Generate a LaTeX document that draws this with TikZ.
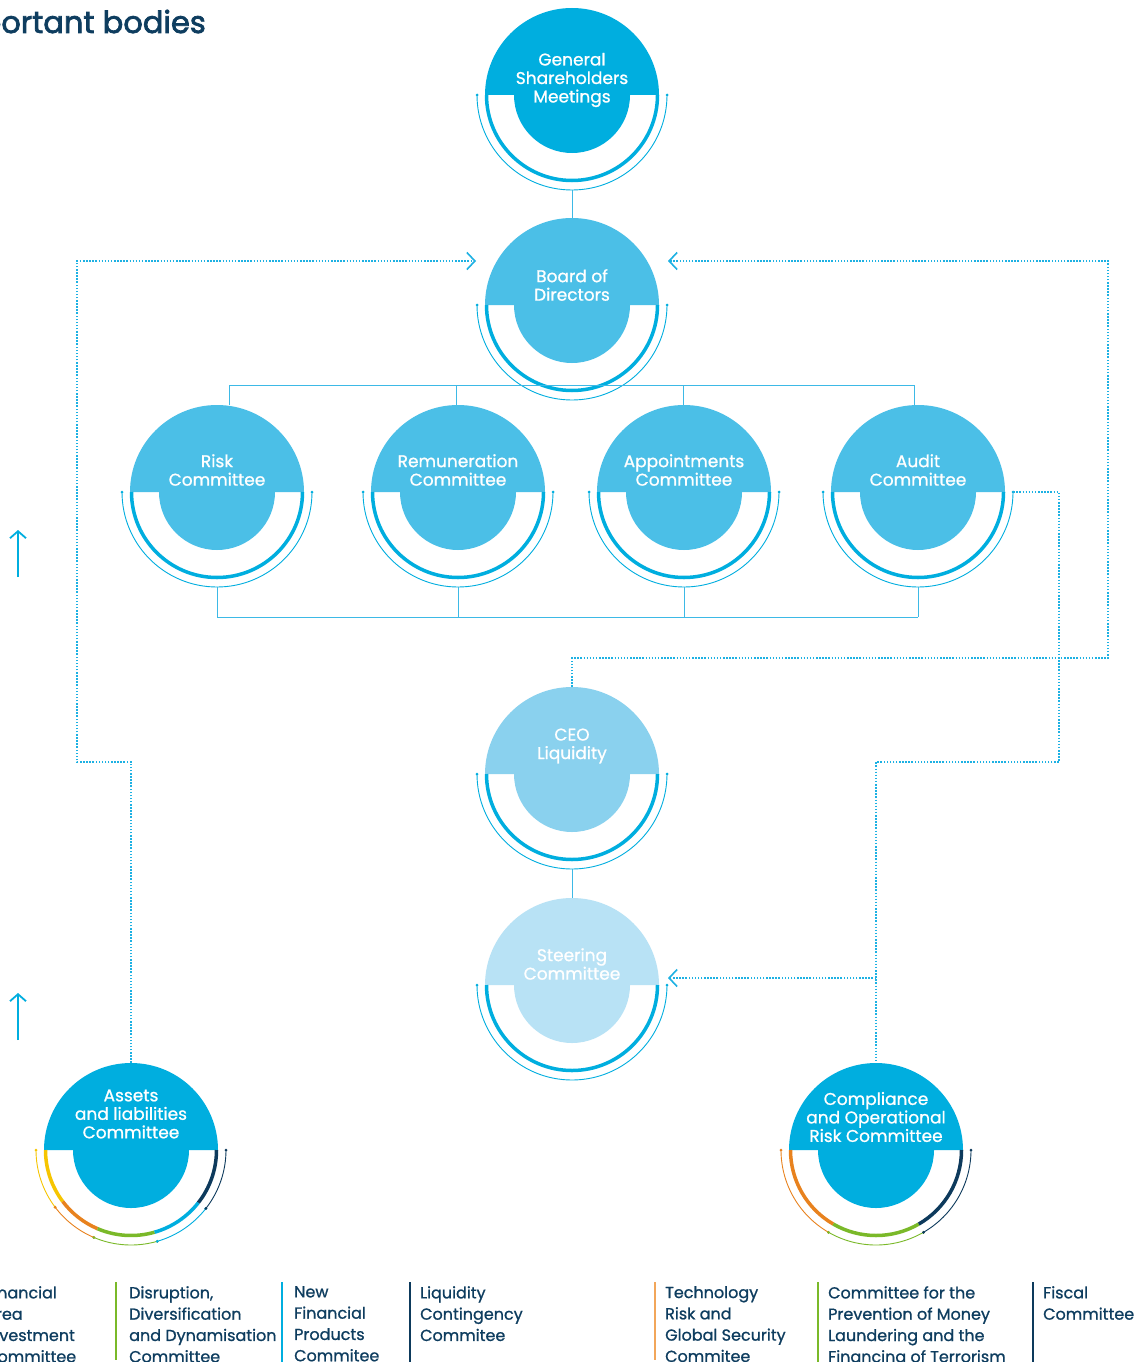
\documentclass[tikz,border=0pt]{standalone}
\usepackage{fontspec}
\setmainfont{Poppins}
\newfontfamily\medfont[FakeBold=0.9]{Poppins}
\newfontfamily\headfont[FakeBold=2.4]{Poppins}
\usepackage{xcolor}
\usepackage{tikz}
\usetikzlibrary{arrows.meta}
\definecolor{navy}{HTML}{0E3D5F}
\definecolor{cyanA}{HTML}{00AEDF}
\definecolor{cyanB}{HTML}{4BBFE7}
\definecolor{cyanC}{HTML}{8AD1EE}
\definecolor{cyanD}{HTML}{B8E2F5}
\definecolor{ringc}{HTML}{00AEDF}
\definecolor{linec}{HTML}{3DB9E6}
\definecolor{dotc}{HTML}{1DB1E3}
\definecolor{ringyellow}{HTML}{F6C500}
\definecolor{ringorange}{HTML}{E8821E}
\definecolor{ringgreen}{HTML}{7AB929}
\definecolor{ringnavy}{HTML}{0D3A5C}
\definecolor{peach}{HTML}{F2A65A}
\tikzset{
  body/.style={circle, minimum size=174pt, inner sep=0pt},
  lab/.style={text=white, align=center, inner sep=0pt, font=\medfont\fontsize{17}{18.5}\selectfont},
  link/.style={draw=linec, line width=1pt},
  dotlink/.style={draw=dotc, line width=1.6pt, dash pattern=on 1.5pt off 1.6pt},
  intip/.style={-{Straight Barb[length=8pt,width=17pt]}},
  legend/.style={text=navy, align=left, anchor=north west, inner sep=0pt, font=\medfont\fontsize{16}{21.3}\selectfont},
  legline/.style={line width=1.5pt}
}
% half disc on top, inner disc below
\newcommand{\bodydisc}[2]{%
  \fill[#2] (#1.center) ++(-87,0) arc[start angle=180, end angle=0, radius=87] -- cycle;
  \fill[#2] (#1.center) circle[radius=58];
}
% thick and thin rings, from/to/colour
\newcommand{\bodyring}[2]{%
  \foreach \a/\b/\c in {#2}{
    \draw[\c, line width=3.5pt] (#1.center) ++(\a:85.5) arc[start angle=\a, end angle=\b, radius=85.5];
    \draw[\c, line width=0.9pt] (#1.center) ++(\a:95) arc[start angle=\a, end angle=\b, radius=95];
    \fill[\c] (#1.center) ++(\a:95) circle[radius=1.5];
    \fill[\c] (#1.center) ++(\b:95) circle[radius=1.5];
  }
}

\begin{document}
\begin{tikzpicture}[x=1pt, y=1pt]
  \fill[white] (0,0) rectangle (1142,-1362);
  \useasboundingbox (0,0) rectangle (1142,-1362);

  \node[anchor=base east, text=navy, inner sep=0pt, font=\headfont\fontsize{30.5}{34}\selectfont] (title) at (206,-33) {Important bodies};

  % bodies
  \node[body] (gsm) at (572,-95) {};
  \node[body] (board) at (572,-305) {};
  \node[body] (risk) at (217,-492) {};
  \node[body] (remun) at (458,-492) {};
  \node[body] (appoint) at (684,-492) {};
  \node[body] (audit) at (918,-492) {};
  \node[body] (ceo) at (572,-774) {};
  \node[body] (steer) at (572,-985) {};
  \node[body] (alco) at (131,-1150) {};
  \node[body] (comp) at (876,-1150) {};

  \bodydisc{gsm}{cyanA}
  \bodydisc{board}{cyanB}
  \foreach \n in {risk,remun,appoint,audit} {\bodydisc{\n}{cyanB}}
  \bodydisc{ceo}{cyanC}
  \bodydisc{steer}{cyanD}
  \bodydisc{alco}{cyanA}
  \bodydisc{comp}{cyanA}

  \foreach \n in {gsm,board,risk,remun,appoint,audit,ceo,steer} {\bodyring{\n}{180/360/ringc}}
  \bodyring{alco}{180/217/ringyellow, 217/247/ringorange, 247/286/ringgreen, 286/322/ringc, 322/360/ringnavy}
  \bodyring{comp}{180/240/ringorange, 240/300/ringgreen, 300/360/ringnavy}

  \node[lab] (gsm-t) at ([yshift=15pt]gsm.center) {General\\Shareholders\\Meetings};
  \node[lab] (board-t) at ([yshift=20pt]board.center) {Board of\\Directors};
  \node[lab] (risk-t) at ([yshift=22pt]risk.center) {Risk\\Committee};
  \node[lab] (remun-t) at ([yshift=22pt]remun.center) {Remuneration\\Committee};
  \node[lab] (appoint-t) at ([yshift=22pt]appoint.center) {Appointments\\Committee};
  \node[lab] (audit-t) at ([yshift=22pt]audit.center) {Audit\\Committee};
  \node[lab] (ceo-t) at ([yshift=28pt]ceo.center) {CEO\\Liquidity};
  \node[lab] (steer-t) at ([yshift=21pt]steer.center) {Steering\\Committee};
  \node[lab] (alco-t) at ([yshift=36pt]alco.center) {Assets\\and liabilities\\Committee};
  \node[lab] (comp-t) at ([yshift=33pt]comp.center) {Compliance\\and Operational\\Risk Committee};

  % solid links
  \draw[link] ([yshift=-8pt]gsm.south) -- (board.north);
  \draw[link] ([yshift=-8pt]ceo.south) -- (steer.north);
  \coordinate (topbus) at (0,-385);
  \coordinate (lowbus) at (0,-617);
  \foreach \n/\dx in {risk/12,remun/-2,appoint/-1,audit/-4}
    \draw[link] ([xshift=\dx pt]\n.north) -- ([xshift=\dx pt]\n.north |- topbus);
  \draw[link] ([xshift=12pt]risk.north |- topbus) -- ([xshift=-4pt]audit.north |- topbus);
  \foreach \n in {risk,remun,appoint,audit}
    \draw[link] ([yshift=-8pt]\n.south) -- (\n.south |- lowbus);
  \draw[link] (risk.south |- lowbus) -- (audit.south |- lowbus);

  % dotted reporting lines
  \coordinate (inL) at (476,-261);
  \coordinate (inR) at (668,-261);
  \coordinate (inS) at (668,-978);
  \draw[dotlink, intip] (alco.north) |- (77,-762) |- (inL);
  \draw[dotlink, intip] (ceo.north) |- (1108,-658) |- (inR);
  \draw[dotlink] ([xshift=8pt]audit.east) -| (1059,-762) -| (comp.north);
  \draw[dotlink, intip] (comp.north |- inS) -- (inS);

  % side arrows
  \draw[link, draw=ringc, line width=1.8pt, -{Straight Barb[length=7pt,width=16pt]}] (18,-577) -- (18,-530);
  \draw[link, draw=ringc, line width=1.8pt, -{Straight Barb[length=7pt,width=16pt]}] (18,-1040) -- (18,-993);

  % committees below
  \draw[legline, ringyellow] (-27,-1282) -- (-27,-1362);
  \node[legend] (fin-t) at (-15,-1286) {Financial\\Area\\Investment\\Committee};
  \draw[legline, ringgreen] (116,-1282) -- (116,-1360);
  \node[legend] (dis-t) at (129,-1286) {Disruption,\\Diversification\\and Dynamisation\\Committee};
  \draw[legline, ringc] (282,-1282) -- (282,-1364);
  \node[legend] (new-t) at (294,-1286) {New\\Financial\\Products\\Commitee};
  \draw[legline, ringnavy] (410,-1282) -- (410,-1364);
  \node[legend] (liq-t) at (420,-1286) {Liquidity\\Contingency\\Commitee};
  \draw[legline, peach] (655,-1282) -- (655,-1360);
  \node[legend] (tech-t) at (665,-1286) {Technology\\Risk and\\Global Security\\Commitee};
  \draw[legline, ringgreen] (818,-1282) -- (818,-1364);
  \node[legend] (aml-t) at (828,-1286) {Committee for the\\Prevention of Money\\Laundering and the\\Financing of Terrorism};
  \draw[legline, ringnavy] (1033,-1282) -- (1033,-1364);
  \node[legend] (fisc-t) at (1043,-1286) {Fiscal\\Committee};
\end{tikzpicture}
\end{document}
